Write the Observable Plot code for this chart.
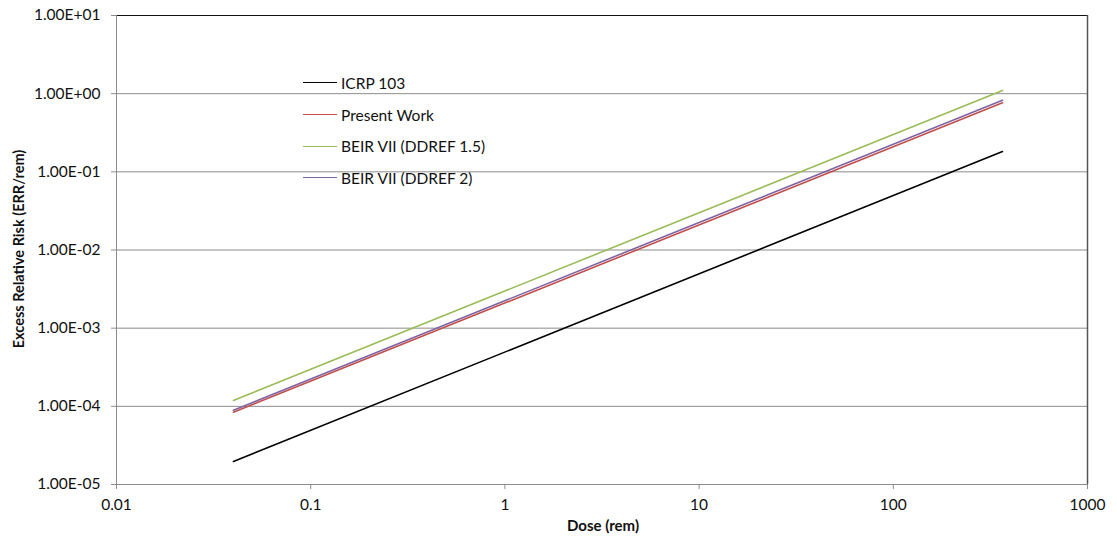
<!DOCTYPE html>
<html>
<head>
<meta charset="utf-8">
<script src="https://cdn.jsdelivr.net/npm/d3@7"></script>
<script src="https://cdn.jsdelivr.net/npm/@observablehq/plot@0.6"></script>
<style>
  html, body { margin: 0; padding: 0; background: #fff; }
  #wrap { position: relative; width: 1117px; height: 541px; font-family: Lato, "Open Sans", sans-serif; }
  #legend { position: absolute; left: 303px; top: 67px; font-size: 15.5px; color: #111; }
  #legend .row { display: flex; align-items: center; height: 31.7px; }
  #legend .sw { width: 34px; height: 0; border-top: 1.6px solid; margin-right: 4px; }
</style>
</head>
<body>
<div id="wrap"></div>
<script>
// ---- data ----
const seriesNames = ["ICRP 103", "Present Work", "BEIR VII (DDREF 1.5)", "BEIR VII (DDREF 2)"];
const seriesColors = ["#000000", "#c0504d", "#9bbb59", "#8064a2"];
const doses = [0.04, 365];
const icrp103 = [1.97e-5, 0.182];
const presentWork = [8.4e-5, 0.764];
const beirDdref15 = [1.19e-4, 1.10];
const beirDdref2 = [8.93e-5, 0.826];
const xTicks = [0.01, 0.1, 1, 10, 100, 1000];
const xTickLabels = ["0.01", "0.1", "1", "10", "100", "1000"];
const yTicks = [1e-5, 1e-4, 1e-3, 1e-2, 1e-1, 1, 10];
const yTickLabels = ["1.00E-05", "1.00E-04", "1.00E-03", "1.00E-02", "1.00E-01", "1.00E+00", "1.00E+01"];

const allSeries = [icrp103, presentWork, beirDdref15, beirDdref2];
const rows = [];
allSeries.forEach((vals, i) => vals.forEach((v, j) => rows.push({series: seriesNames[i], dose: doses[j], err: v})));

const chart = Plot.plot({
  width: 1117,
  height: 541,
  marginLeft: 116,
  marginRight: 30,
  marginTop: 15,
  marginBottom: 57,
  style: {fontFamily: "Lato, 'Open Sans', sans-serif", fontSize: "15.5px", color: "#111", background: "#fff"},
  x: {type: "log", domain: [0.01, 1000]},
  y: {type: "log", domain: [1e-5, 10]},
  color: {domain: seriesNames, range: seriesColors},
  marks: [
    Plot.ruleY(yTicks, {stroke: "#8c8c8c", strokeWidth: 1}),
    Plot.ruleY([10], {stroke: "#111", strokeWidth: 1.2}),
    Plot.ruleX([0.01], {stroke: "#8c8c8c", strokeWidth: 1}),
    Plot.ruleX([1000], {stroke: "#555", strokeWidth: 1.5}),
    Plot.axisY({ticks: yTicks, tickFormat: d => yTickLabels[yTicks.indexOf(d)], tickSize: 5, tickPadding: 11, stroke: "#8c8c8c", fill: "#111", label: null}),
    Plot.axisX({ticks: xTicks, tickFormat: d => xTickLabels[xTicks.indexOf(d)], tickSize: 5, tickPadding: 9, stroke: "#8c8c8c", fill: "#111", label: null}),
    Plot.line(rows, {x: "dose", y: "err", z: "series", stroke: "series", strokeWidth: 1.6})
  ]
});

const wrap = document.getElementById("wrap");
wrap.appendChild(chart);

// axis titles
const svg = d3.select(chart);
svg.append("text")
  .attr("transform", "translate(24,249) rotate(-90)")
  .attr("text-anchor", "middle")
  .attr("font-weight", "bold").attr("font-size", "14.5px").attr("fill", "#111")
  .text("Excess Relative Risk (ERR/rem)");
svg.append("text")
  .attr("x", 603).attr("y", 531)
  .attr("text-anchor", "middle")
  .attr("font-weight", "bold").attr("font-size", "15px").attr("fill", "#111")
  .text("Dose (rem)");

// legend
const legend = document.createElement("div");
legend.id = "legend";
seriesNames.forEach((n, i) => {
  const r = document.createElement("div");
  r.className = "row";
  const sw = document.createElement("span");
  sw.className = "sw";
  sw.style.borderColor = seriesColors[i];
  const t = document.createElement("span");
  t.textContent = n;
  r.appendChild(sw); r.appendChild(t);
  legend.appendChild(r);
});
wrap.appendChild(legend);
</script>
</body>
</html>
